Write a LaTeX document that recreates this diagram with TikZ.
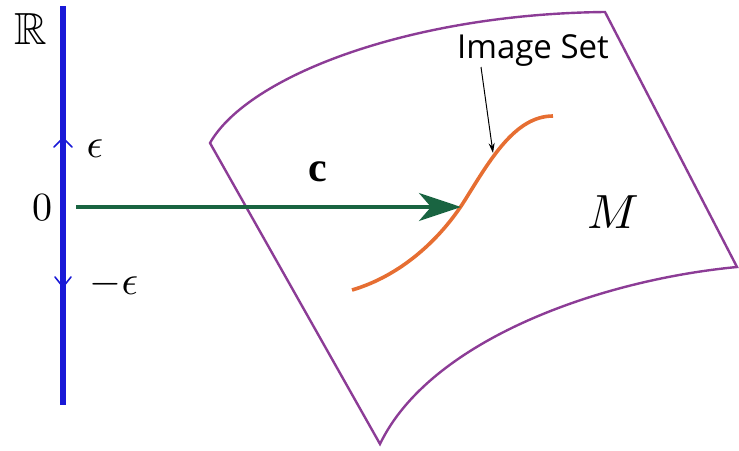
\documentclass[tikz,border=0pt]{standalone}
\usepackage{amsmath,amssymb}
\usepackage{graphicx}
\usepackage{fontspec}
\newfontfamily\labelsans{Open Sans}
\newfontfamily\labelserif{Liberation Serif}
\usetikzlibrary{arrows.meta}
\definecolor{axisblue}{RGB}{25,25,215}
\definecolor{mapgreen}{RGB}{25,100,65}
\definecolor{surfpurple}{RGB}{140,60,150}
\definecolor{curveorange}{RGB}{230,110,50}
\tikzset{
  axisline/.style={axisblue, line width=5.5pt},
  tickmark/.style={axisblue, line width=1.6pt, line cap=round, line join=round},
  maparrow/.style={mapgreen, line width=3.5pt, -{Stealth[length=42pt,width=28pt,inset=12pt]}},
  surface/.style={surfpurple, line width=2.4pt, line join=miter},
  imagecurve/.style={curveorange, line width=3.6pt},
  pointer/.style={black, line width=1pt, -{Stealth[length=10pt,width=6pt]}},
  mathlbl/.style={inner sep=0pt},
}
\begin{document}
\begin{tikzpicture}[x=1pt,y=-1pt]
\useasboundingbox (0,0) rectangle (739,450);
% real line
\coordinate (rtop) at (63,6);
\coordinate (rbot) at (63,405);
\draw[axisline] (rtop) -- (rbot);
\node[mathlbl] (R) at (31,29) {\scalebox{4.5}{$\mathbb{R}$}};
\node[mathlbl] (zero) at (42,208) {\scalebox{4}{$0$}};
\node[mathlbl] (eps) at (95,149) {\scalebox{4.1}{$\epsilon$}};
\node[mathlbl] (meps) at (114,284) {\scalebox{4.1}{$-\epsilon$}};
% tick chevrons
\coordinate (up1) at (54,147);
\coordinate (upapex) at (63,138);
\coordinate (up2) at (72,147);
\draw[tickmark] (up1) -- (upapex) -- (up2);
\coordinate (dn1) at (55,277);
\coordinate (dnapex) at (63,287);
\coordinate (dn2) at (71,277);
\draw[tickmark] (dn1) -- (dnapex) -- (dn2);
% surface M
\coordinate (tl) at (210,143);
\coordinate (tr) at (605,12);
\coordinate (rr) at (737,267);
\coordinate (bb) at (380,444);
\draw[surface] (tl) .. controls (248,76) and (410,14) .. (tr)
  -- (rr) .. controls (600,280) and (430,340) .. (bb) -- cycle;
\node[mathlbl] (M) at (613,212) {\scalebox{4.8}{$M$}};
% image curve
\coordinate (cs) at (352,290);
\coordinate (cm) at (465,200);
\coordinate (ce) at (553,116);
\draw[imagecurve] (cs) .. controls (400,276) and (440,240) .. (cm)
  .. controls (490,160) and (515,116) .. (ce);
% map arrow c
\coordinate (astart) at (76,207);
\coordinate (aend) at (461,207);
\draw[maparrow] (astart) -- (aend);
\node[inner sep=0pt, font=\labelserif\bfseries\fontsize{42}{48}\selectfont] (clbl) at (318,172) {c};
% image set label
\node[inner sep=0pt, anchor=base, font=\labelsans\fontsize{33}{40}\selectfont] (islbl) at (533,58) {Image Set};
\coordinate (pstart) at (481,67);
\coordinate (pend) at (493,153);
\draw[pointer] (pstart) -- (pend);
\end{tikzpicture}
\end{document}
